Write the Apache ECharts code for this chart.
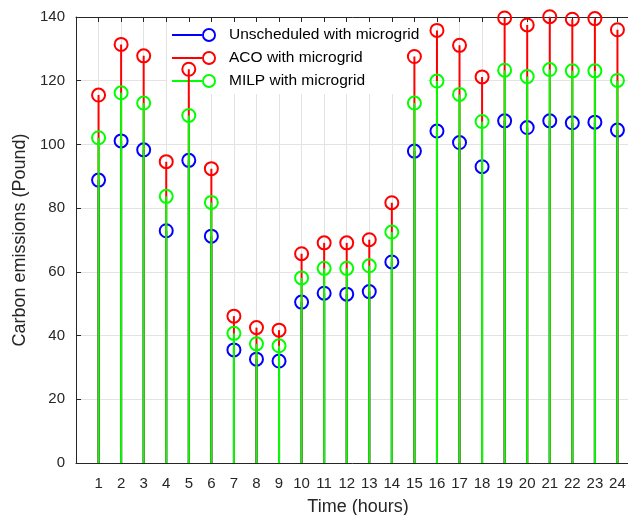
<!DOCTYPE html>
<html>
<head>
<meta charset="utf-8">
<script src="https://cdn.jsdelivr.net/npm/echarts@6/dist/echarts.min.js"></script>
<style>html,body{margin:0;padding:0;background:#fff;}#c{width:628px;height:515px;}</style>
</head>
<body>
<div id="c"></div>
<script>
const hours = [1,2,3,4,5,6,7,8,9,10,11,12,13,14,15,16,17,18,19,20,21,22,23,24];
const unscheduled = [88.8,101.1,98.3,72.9,95.0,71.2,35.5,32.6,32.0,50.5,53.3,53.0,53.8,63.1,97.9,104.2,100.6,93.0,107.4,105.3,107.4,106.8,107.0,104.5];
const aco = [115.5,131.4,127.8,94.6,123.6,92.4,46.1,42.5,41.7,65.7,69.1,69.1,70.1,81.7,127.6,135.8,131.1,121.2,139.7,137.5,140.1,139.3,139.5,136.0];
const milp = [102.1,116.2,113.0,83.7,109.1,81.8,40.7,37.4,36.8,58.1,61.1,61.1,61.9,72.5,113.0,119.9,115.7,107.2,123.3,121.3,123.5,123.1,123.1,120.1];
const seriesNames = ['Unscheduled with microgrid','ACO with microgrid','MILP with microgrid'];
const yTicks = [0,20,40,60,80,100,120,140];

const colors = ['#0000ff','#ff0000','#00ff00'];
const FONT = '"Liberation Sans", Arial, Helvetica, sans-serif';
const AX = '#262626';
const iconPath = 'path://M0 7 L30 7 L30 9 L0 9 Z M44 8 A7 7 0 1 0 30 8 A7 7 0 1 0 44 8 Z M42.1 8 A5.1 5.1 0 1 1 31.9 8 A5.1 5.1 0 1 1 42.1 8 Z';

function stemSeries(name, vals, color){
  return {
    type:'custom', name:name, z:3,
    itemStyle:{color:color},
    data: hours.map((h,i)=>[h, vals[i]]),
    renderItem:function(params, api){
      const x = api.value(0), y = api.value(1);
      const p0 = api.coord([x,0]), p1 = api.coord([x,y]);
      return {type:'group', children:[
        {type:'line', shape:{x1:p0[0],y1:p0[1],x2:p1[0],y2:p1[1]}, style:{stroke:color,lineWidth:2}},
        {type:'circle', shape:{cx:p1[0],cy:p1[1],r:6.5}, style:{fill:'none',stroke:color,lineWidth:2}}
      ]};
    }
  };
}

const chart = echarts.init(document.getElementById('c'), null, {renderer:'canvas'});
const xCommon = {
  type:'value', min:0, max:25, interval:1,
  axisLine:{show:true, onZero:false, lineStyle:{color:AX, width:1}},
  axisTick:{show:true, inside:true, length:5, lineStyle:{color:AX}},
};
chart.setOption({
  animation:false,
  backgroundColor:'#fff',
  textStyle:{fontFamily:FONT},
  grid:{left:76, right:-12, top:17, bottom:52, containLabel:false, outerBoundsMode:'none'},
  legend:{
    orient:'vertical', left:167, top:22, z:1,
    padding:[5,8,5,5],
    backgroundColor:'#fff',
    itemWidth:44, itemHeight:14, itemGap:7,
    textStyle:{fontFamily:FONT, fontSize:15.5, color:'#000', padding:[0,0,0,8]},
    data: seriesNames.map((n,i)=>({name:n, icon:iconPath, itemStyle:{color:colors[i], borderWidth:0}}))
  },
  xAxis:[
    Object.assign({}, xCommon, {
      position:'bottom',
      name:'Time (hours)', nameLocation:'middle', nameGap:35,
      nameTextStyle:{fontFamily:FONT, fontSize:18, color:AX},
      axisLabel:{margin:13, fontFamily:FONT, fontSize:15, color:AX,
        formatter:function(v){ return hours.indexOf(v)>=0 ? String(v) : ''; }},
      splitLine:{show:true, lineStyle:{color:'#e3e3e3', width:1}}
    }),
    Object.assign({}, xCommon, {
      position:'top',
      axisLabel:{show:false},
      splitLine:{show:false}
    })
  ],
  yAxis:{
    type:'value', min:0, max:140, interval:20,
    name:'Carbon emissions (Pound)', nameLocation:'middle', nameGap:43,
    nameTextStyle:{fontFamily:FONT, fontSize:18, color:AX},
    axisLine:{show:true, lineStyle:{color:AX, width:1}},
    axisTick:{show:true, inside:true, length:5, lineStyle:{color:AX}},
    axisLabel:{margin:11, fontFamily:FONT, fontSize:15, color:AX,
      formatter:function(v){ return yTicks.indexOf(v)>=0 ? String(v) : ''; }},
    splitLine:{show:true, lineStyle:{color:'#e3e3e3', width:1}}
  },
  series:[
    stemSeries(seriesNames[0], unscheduled, colors[0]),
    stemSeries(seriesNames[1], aco, colors[1]),
    stemSeries(seriesNames[2], milp, colors[2])
  ]
});
</script>
</body>
</html>
